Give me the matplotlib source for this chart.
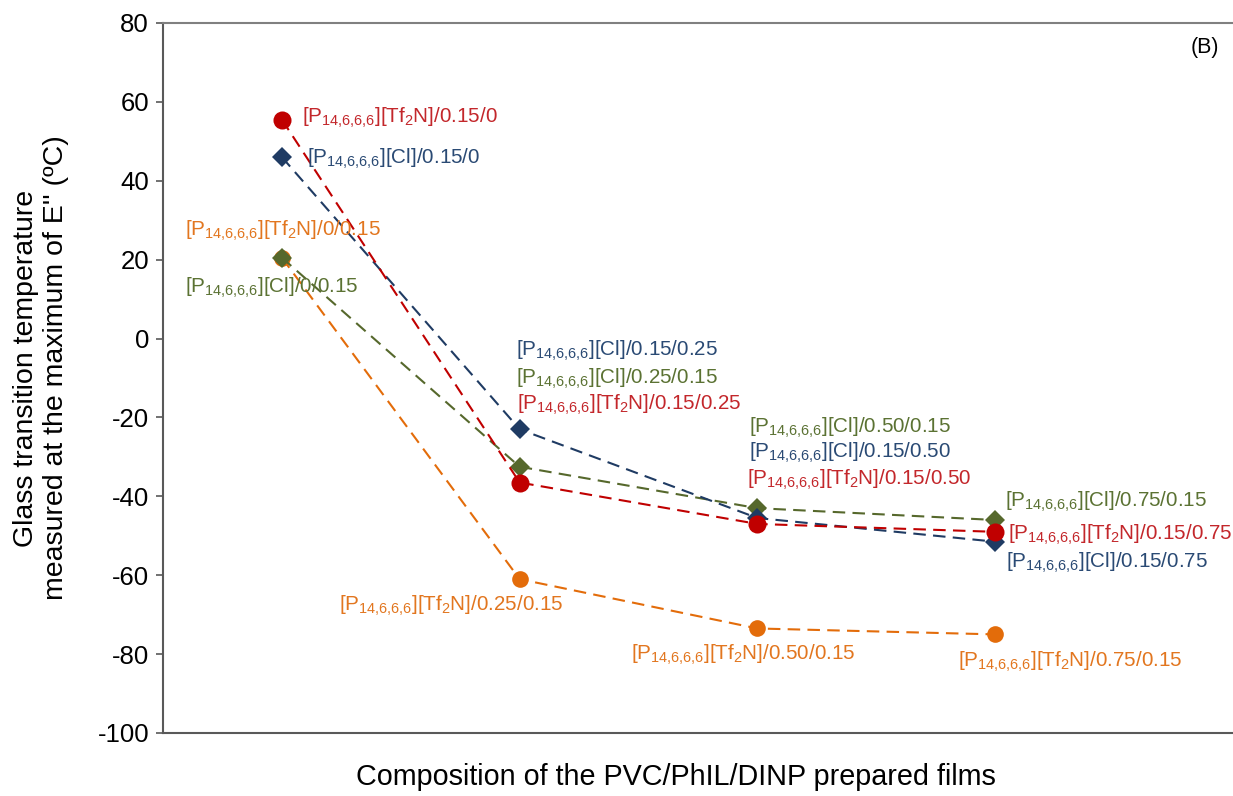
import matplotlib
matplotlib.use('Agg')
import matplotlib.pyplot as plt

plt.rcParams['font.family'] = ['Liberation Sans', 'DejaVu Sans']
plt.rcParams['mathtext.fontset'] = 'custom'
plt.rcParams['mathtext.rm'] = 'Liberation Sans'
plt.rcParams['mathtext.default'] = 'regular'
plt.rcParams['axes.unicode_minus'] = False

# data
x = [1, 2, 3, 4]
tf2n_015_x = [55.5, -36.5, -47, -49]      # [P14,6,6,6][Tf2N]/0.15/x
cl_015_x = [46, -23, -45.5, -51.5]        # [P14,6,6,6][Cl]/0.15/x
cl_x_015 = [20.5, -32.5, -43, -46]        # [P14,6,6,6][Cl]/x/0.15
tf2n_x_015 = [20.5, -61, -73.5, -75]      # [P14,6,6,6][Tf2N]/x/0.15

P = r'[P$_{14{,}6{,}6{,}6}$]'
TF = r'[Tf$_2$N]'
CL = '[Cl]'
tf2n_015_x_labels = [P + TF + '/0.15/0', P + TF + '/0.15/0.25', P + TF + '/0.15/0.50', P + TF + '/0.15/0.75']
cl_015_x_labels = [P + CL + '/0.15/0', P + CL + '/0.15/0.25', P + CL + '/0.15/0.50', P + CL + '/0.15/0.75']
cl_x_015_labels = [P + CL + '/0/0.15', P + CL + '/0.25/0.15', P + CL + '/0.50/0.15', P + CL + '/0.75/0.15']
tf2n_x_015_labels = [P + TF + '/0/0.15', P + TF + '/0.25/0.15', P + TF + '/0.50/0.15', P + TF + '/0.75/0.15']

# label offsets in pixels (dx, dy) from each point, left aligned
red_off = [(20, 2), (-3, 78), (-10, 44), (13, -3)]
blue_off = [(25, -2), (-4, 78), (-8, 65), (11, -21)]
green_off = [(-97, -30), (-4, 88), (-8, 80), (10, 18)]
orange_off = [(-97, 27), (-181, -27), (-126, -26), (-37, -28)]

red = '#C00000'
blue = '#1F3B63'
green = '#56682C'
orange = '#E36C0A'
red_t = '#C3272B'
blue_t = '#2A4A74'
green_t = '#5B7233'
orange_t = '#E2761F'

fig = plt.figure(figsize=(12.33, 7.96), dpi=100)
ax = fig.add_axes([163 / 1233, 63 / 796, 1070 / 1233, 710 / 796])

series = [
    (tf2n_x_015, orange, 'o', 12, orange_t, tf2n_x_015_labels, orange_off),
    (cl_x_015, green, 'D', 10.5, green_t, cl_x_015_labels, green_off),
    (cl_015_x, blue, 'D', 10.5, blue_t, cl_015_x_labels, blue_off),
    (tf2n_015_x, red, 'o', 13, red_t, tf2n_015_x_labels, red_off),
]
for ys, c, m, ms, tc, labels, offs in series:
    ax.plot(x, ys, color=c, linestyle=(0, (6, 3.5)), linewidth=1.5,
            marker=m, markersize=ms, markeredgewidth=0)
    for xi, yi, lab, (dx, dy) in zip(x, ys, labels, offs):
        ax.annotate(lab, xy=(xi, yi), xytext=(dx, dy), textcoords='offset pixels',
                    ha='left', va='center', fontsize=14.9, color=tc)

ax.set_xlim(0.5, 5.0)
ax.set_ylim(-100, 80)
ax.set_yticks(range(-100, 81, 20))
ax.set_xticks([])
ax.tick_params(axis='y', labelsize=18.5, length=5, width=1.2, color='#595959', pad=5)
for s in ['left', 'bottom']:
    ax.spines[s].set_color('#595959')
    ax.spines[s].set_linewidth(1.5)
ax.spines['top'].set_color('#808080')
ax.spines['top'].set_linewidth(1.5)
ax.spines['right'].set_visible(False)

ax.text(0.974, 0.966, '(B)', transform=ax.transAxes, ha='center', va='center', fontsize=15.5)

fig.text(41 / 1233, (796 - 368) / 796,
         "Glass transition temperature\nmeasured at the maximum of E'' (ºC)",
         rotation=90, ha='center', va='center', multialignment='center', fontsize=20.5)
fig.text(676 / 1233, (796 - 777) / 796, 'Composition of the PVC/PhIL/DINP prepared films',
         ha='center', va='center', fontsize=20.7)

fig.savefig('out.png', dpi=100)
